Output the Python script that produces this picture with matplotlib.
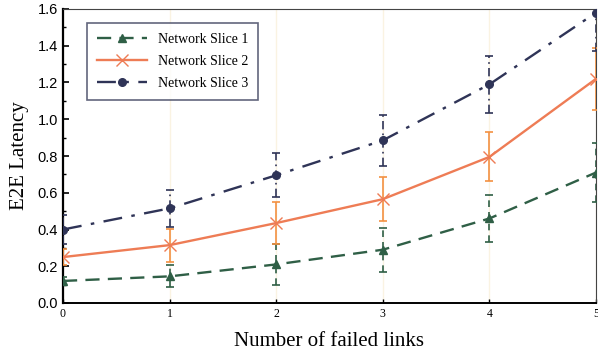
import matplotlib
matplotlib.use("Agg")
import matplotlib.pyplot as plt
from matplotlib.lines import Line2D
from matplotlib.ticker import MultipleLocator

# failed links on the x axis
failed_links = [0, 1, 2, 3, 4, 5]

# mean E2E latency and error half-widths per slice
slice1 = [0.12, 0.145, 0.21, 0.29, 0.46, 0.71]
slice1_err = [0.02, 0.06, 0.11, 0.12, 0.13, 0.16]
slice2 = [0.25, 0.315, 0.435, 0.565, 0.795, 1.22]
slice2_err = [0.045, 0.09, 0.116, 0.118, 0.133, 0.17]
slice3 = [0.40, 0.515, 0.695, 0.885, 1.19, 1.58]
slice3_err = [0.08, 0.10, 0.12, 0.14, 0.155, 0.21]

labels = ["Network Slice 1", "Network Slice 2", "Network Slice 3"]

GREEN = "#2f5f46"
ORANGE = "#ee7c55"
ORANGE_ERR = "#f39142"
NAVY = "#2f3457"
SERIF = ["Liberation Serif", "DejaVu Serif"]
SANS = ["Liberation Sans", "DejaVu Sans"]

DASH = (0, (6, 3.5))
DASHDOT = (0, (8, 4, 1.5, 4))

fig = plt.figure(figsize=(5.98, 3.55), dpi=100)
ax = fig.add_axes([63 / 598, 1 - 303 / 355, 533 / 598, 294 / 355])

# faint vertical guides at each integer link count
for x in failed_links:
    ax.axvline(x, color="#faf3e2", lw=1.0, zorder=0)


def series(y, err, color, ls, marker, ms, ecolor, err_ls, z, **kw):
    eb = ax.errorbar(failed_links, y, yerr=err, fmt="none", ecolor=ecolor,
                     elinewidth=1.2, capsize=3, capthick=1.2, zorder=z)
    eb[2][0].set_linestyle(err_ls)
    ax.plot(failed_links, y, color=color, ls=ls, lw=1.7, marker=marker,
            ms=ms, zorder=z + 0.5, **kw)


series(slice1, slice1_err, GREEN, DASH, "^", 6, GREEN, (0, (4, 3)), 3)
series(slice2, slice2_err, ORANGE, "-", "x", 8, ORANGE_ERR, "-", 4, mew=1.0)
series(slice3, slice3_err, NAVY, DASHDOT, "o", 5.5, NAVY, (0, (5, 2.5, 1, 2.5)), 5)

ax.set_xlim(0, 5)
ax.set_ylim(0, 1.6)
ax.yaxis.set_major_locator(MultipleLocator(0.2))
ax.yaxis.set_minor_locator(MultipleLocator(0.1))
ax.xaxis.set_major_locator(MultipleLocator(1))

ax.tick_params(axis="y", direction="in", length=4, width=1.2, labelsize=10.5)
ax.tick_params(axis="y", which="minor", direction="in", length=2.5, width=1.0)
ax.tick_params(axis="x", direction="in", length=3, width=1.0, labelsize=8.5)
for t in ax.get_yticklabels():
    t.set_family(SANS)
for t in ax.get_xticklabels():
    t.set_family(SERIF)

ax.spines["left"].set_linewidth(1.6)
ax.spines["bottom"].set_linewidth(1.4)
ax.spines["top"].set_color("#444444")
ax.spines["right"].set_color("#444444")

ax.set_xlabel("Number of failed links", family=SERIF, fontsize=15, labelpad=9)
ax.set_ylabel("E2E Latency", family=SERIF, fontsize=15, labelpad=6)

handles = [
    Line2D([], [], color=GREEN, ls=DASH, lw=1.7, marker="^", ms=6),
    Line2D([], [], color=ORANGE, ls="-", lw=1.7, marker="x", ms=8, mew=1.0),
    Line2D([], [], color=NAVY, ls=DASHDOT, lw=1.7, marker="o", ms=5.5),
]
leg = ax.legend(handles, labels, loc="upper left", bbox_to_anchor=(0.032, 0.975),
                frameon=True, fancybox=False,
                prop={"family": SERIF, "size": 10},
                handlelength=3.6, labelspacing=0.65, borderpad=0.7)
leg.get_frame().set_edgecolor("#3a3f5c")
leg.get_frame().set_linewidth(1.2)

fig.savefig("out.png", dpi=100)
